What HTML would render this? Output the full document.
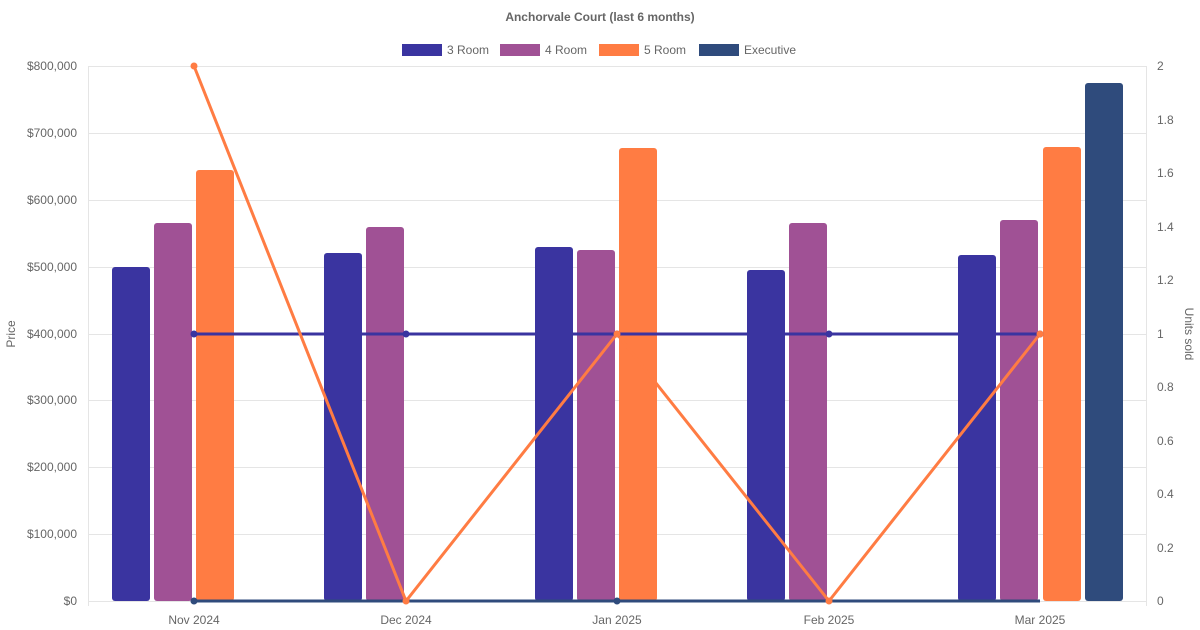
<!DOCTYPE html>
<html><head><meta charset="utf-8"><style>
body{margin:0;background:#fff;}
svg{display:block;font-family:"Liberation Sans",sans-serif;}
</style></head><body>
<svg width="1200" height="630" viewBox="0 0 1200 630">
<text x="600" y="21" text-anchor="middle" font-size="12" font-weight="bold" fill="#666">Anchorvale Court (last 6 months)</text>
<g font-size="12" fill="#666">
<rect x="402" y="44" width="40" height="12" fill="#3a34a0"/><text x="447" y="54">3 Room</text>
<rect x="500" y="44" width="40" height="12" fill="#a05195"/><text x="545" y="54">4 Room</text>
<rect x="599" y="44" width="40" height="12" fill="#ff7c43"/><text x="644" y="54">5 Room</text>
<rect x="699" y="44" width="40" height="12" fill="#2f4b7c"/><text x="744" y="54">Executive</text>
</g>
<g stroke="#e5e5e5" stroke-width="1">
<line x1="88" y1="66.5" x2="1147" y2="66.5"/>
<line x1="88" y1="133.5" x2="1147" y2="133.5"/>
<line x1="88" y1="200.5" x2="1147" y2="200.5"/>
<line x1="88" y1="267.5" x2="1147" y2="267.5"/>
<line x1="88" y1="334.5" x2="1147" y2="334.5"/>
<line x1="88" y1="400.5" x2="1147" y2="400.5"/>
<line x1="88" y1="467.5" x2="1147" y2="467.5"/>
<line x1="88" y1="534.5" x2="1147" y2="534.5"/>
<line x1="88" y1="601.5" x2="1147" y2="601.5"/>
<line x1="88.5" y1="66" x2="88.5" y2="606"/>
<line x1="1146.5" y1="66" x2="1146.5" y2="606"/>
</g>
<g font-size="12" fill="#666" text-anchor="end">
<text x="77" y="70">$800,000</text><text x="77" y="137">$700,000</text><text x="77" y="204">$600,000</text><text x="77" y="271">$500,000</text><text x="77" y="338">$400,000</text><text x="77" y="404">$300,000</text><text x="77" y="471">$200,000</text><text x="77" y="538">$100,000</text><text x="77" y="605">$0</text>
</g>
<g font-size="12" fill="#666">
<text x="1157" y="70">2</text><text x="1157" y="124">1.8</text><text x="1157" y="177">1.6</text><text x="1157" y="231">1.4</text><text x="1157" y="284">1.2</text><text x="1157" y="338">1</text><text x="1157" y="391">0.8</text><text x="1157" y="445">0.6</text><text x="1157" y="498">0.4</text><text x="1157" y="552">0.2</text><text x="1157" y="605">0</text>
</g>
<g font-size="12" fill="#666" text-anchor="middle">
<text x="194" y="624">Nov 2024</text><text x="406" y="624">Dec 2024</text><text x="617" y="624">Jan 2025</text><text x="829" y="624">Feb 2025</text><text x="1040" y="624">Mar 2025</text>
</g>
<text transform="translate(15,334) rotate(-90)" text-anchor="middle" font-size="12" fill="#666">Price</text>
<text transform="translate(1185,334) rotate(90)" text-anchor="middle" font-size="12" fill="#666">Units sold</text>
<g>
<rect x="112" y="267" width="38" height="334" rx="3" fill="#3a34a0"/>
<rect x="154" y="223" width="38" height="378" rx="3" fill="#a05195"/>
<rect x="196" y="170" width="38" height="431" rx="3" fill="#ff7c43"/>
<rect x="324" y="253" width="38" height="348" rx="3" fill="#3a34a0"/>
<rect x="366" y="227" width="38" height="374" rx="3" fill="#a05195"/>
<rect x="535" y="247" width="38" height="354" rx="3" fill="#3a34a0"/>
<rect x="577" y="250" width="38" height="351" rx="3" fill="#a05195"/>
<rect x="619" y="148" width="38" height="453" rx="3" fill="#ff7c43"/>
<rect x="747" y="270" width="38" height="331" rx="3" fill="#3a34a0"/>
<rect x="789" y="223" width="38" height="378" rx="3" fill="#a05195"/>
<rect x="958" y="255" width="38" height="346" rx="3" fill="#3a34a0"/>
<rect x="1000" y="220" width="38" height="381" rx="3" fill="#a05195"/>
<rect x="1043" y="147" width="38" height="454" rx="3" fill="#ff7c43"/>
<rect x="1085" y="83" width="38" height="518" rx="3" fill="#2f4b7c"/>
</g>
<polyline points="194,601 406,601 617,601 829,601 1040,601" fill="none" stroke="#2f4b7c" stroke-width="3"/>
<polyline points="194,334 406,334 617,334 829,334 1040,334" fill="none" stroke="#3a34a0" stroke-width="3"/>
<polyline points="194,66 406,601 617,334 829,601 1040,334" fill="none" stroke="#ff7c43" stroke-width="3"/>
<g fill="#2f4b7c"><circle cx="194" cy="601" r="3.5"/><circle cx="617" cy="601" r="3.5"/></g>
<g fill="#3a34a0"><circle cx="194" cy="334" r="3.5"/><circle cx="406" cy="334" r="3.5"/><circle cx="617" cy="334" r="3.5"/><circle cx="829" cy="334" r="3.5"/><circle cx="1040" cy="334" r="3.5"/></g>
<g fill="#ff7c43"><circle cx="194" cy="66" r="3.5"/><circle cx="406" cy="601" r="3.5"/><circle cx="617" cy="334" r="3.5"/><circle cx="829" cy="601" r="3.5"/><circle cx="1040" cy="334" r="3.5"/></g>
</svg>
</body></html>
